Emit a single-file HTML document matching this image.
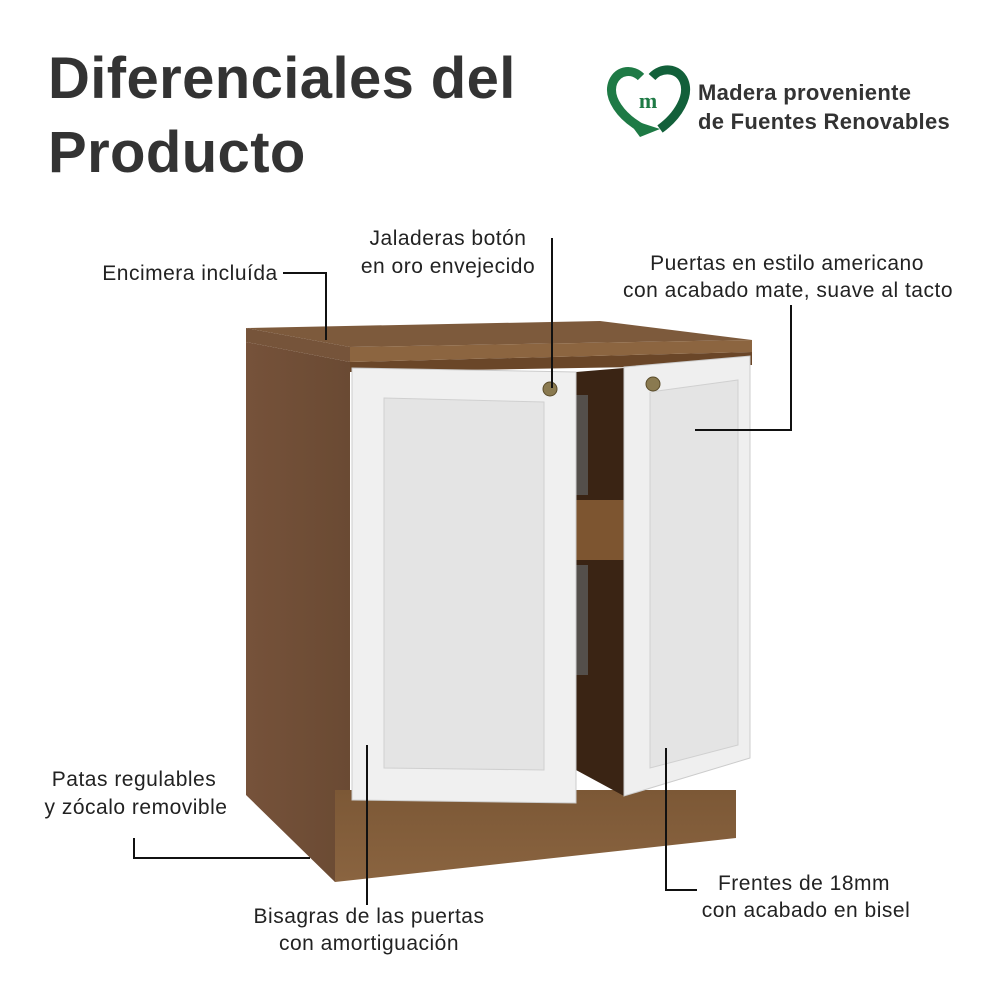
<!DOCTYPE html>
<html><head><meta charset="utf-8"><style>
body{margin:0;width:1000px;height:1000px;background:#fff;overflow:hidden;font-family:"Liberation Sans",sans-serif}
svg{position:absolute;left:0;top:0}
</style></head><body>
<svg width="1000" height="1000" viewBox="0 0 1000 1000">
<defs>
<linearGradient id="wood" x1="0" x2="1" y1="0" y2="0"><stop offset="0" stop-color="#76523a"/><stop offset="1" stop-color="#6a4a33"/></linearGradient>
<linearGradient id="wood2" x1="0" x2="0" y1="0" y2="1"><stop offset="0" stop-color="#7c5836"/><stop offset="1" stop-color="#8a6440"/></linearGradient>
</defs>
<text x="48" y="98" font-size="58" font-weight="bold" fill="#333" letter-spacing="0.4">Diferenciales del</text>
<text x="48" y="172" font-size="58" font-weight="bold" fill="#333" letter-spacing="0.4">Producto</text>
<!-- logo -->
<path d="M645,130 C620,117 607,97 613,82 C619,69 633,69 641,77" fill="none" stroke="#1e7a45" stroke-width="9"/>
<path d="M652,77 C661,67 678,67 684,81 C690,96 678,116 660,129" fill="none" stroke="#12603a" stroke-width="9"/>
<path d="M626,118 L660,129 L640,137 Z" fill="#1e7a45"/>
<text x="648" y="108" font-size="22" font-weight="bold" fill="#1e7a45" text-anchor="middle" font-family="Liberation Serif,serif">m</text>
<text x="698" y="100" font-size="22" font-weight="bold" fill="#333" letter-spacing="0.3">Madera proveniente</text>
<text x="698" y="129" font-size="22" font-weight="bold" fill="#333" letter-spacing="0.3">de Fuentes Renovables</text>
<!-- cabinet -->
<polygon points="246,342 350,362 350,790 335,790 335,882 246,795" fill="url(#wood)"/>
<polygon points="335,790 736,790 736,838 335,882" fill="url(#wood2)"/>
<polygon points="576,372 624,368 624,796 576,770" fill="#3a2414"/>
<rect x="576" y="500" width="48" height="60" fill="#7d5530"/>
<rect x="576" y="395" width="12" height="100" fill="#6e7a82" opacity=".5"/>
<rect x="576" y="565" width="12" height="110" fill="#6e7a82" opacity=".5"/>
<polygon points="350,362 752,352 752,365 350,372" fill="#6a4628"/>
<polygon points="246,328 600,321 752,340 350,347" fill="#7d5a3c"/>
<polygon points="246,328 350,347 350,362 246,342" fill="#76543a"/>
<polygon points="350,347 752,340 752,352 350,362" fill="#8c6540"/>
<!-- left door -->
<polygon points="352,368 576,372 576,803 352,800" fill="#f0f0f0" stroke="#ccc"/>
<polygon points="384,398 544,402 544,770 384,768" fill="#e4e4e4" stroke="#d0d0d0"/>
<circle cx="550" cy="389" r="7" fill="#8a7a50" stroke="#5a4c2a"/>
<!-- right door -->
<polygon points="624,367 750,356 750,758 624,796" fill="#efefef" stroke="#ccc"/>
<polygon points="650,392 738,380 738,745 650,768" fill="#e4e4e4" stroke="#d0d0d0"/>
<circle cx="653" cy="384" r="7" fill="#8a7a50" stroke="#5a4c2a"/>
<!-- callouts -->
<g stroke="#111" stroke-width="2" fill="none">
<polyline points="283,273 326,273 326,340"/>
<polyline points="552,238 552,388"/>
<polyline points="695,430 791,430 791,305"/>
<polyline points="134,838 134,858 310,858"/>
<polyline points="367,745 367,905"/>
<polyline points="666,748 666,890 697,890"/>
</g>
<g font-size="21" fill="#222" text-anchor="middle" letter-spacing="0.5">
<text x="190" y="280">Encimera incluída</text>
<text x="448" y="245">Jaladeras botón</text>
<text x="448" y="273">en oro envejecido</text>
<text x="787" y="270">Puertas en estilo americano</text>
<text x="788" y="297">con acabado mate, suave al tacto</text>
<text x="134" y="786">Patas regulables</text>
<text x="136" y="814">y zócalo removible</text>
<text x="369" y="923">Bisagras de las puertas</text>
<text x="369" y="950">con amortiguación</text>
<text x="804" y="890">Frentes de 18mm</text>
<text x="806" y="917">con acabado en bisel</text>
</g>
</svg>
</body></html>
